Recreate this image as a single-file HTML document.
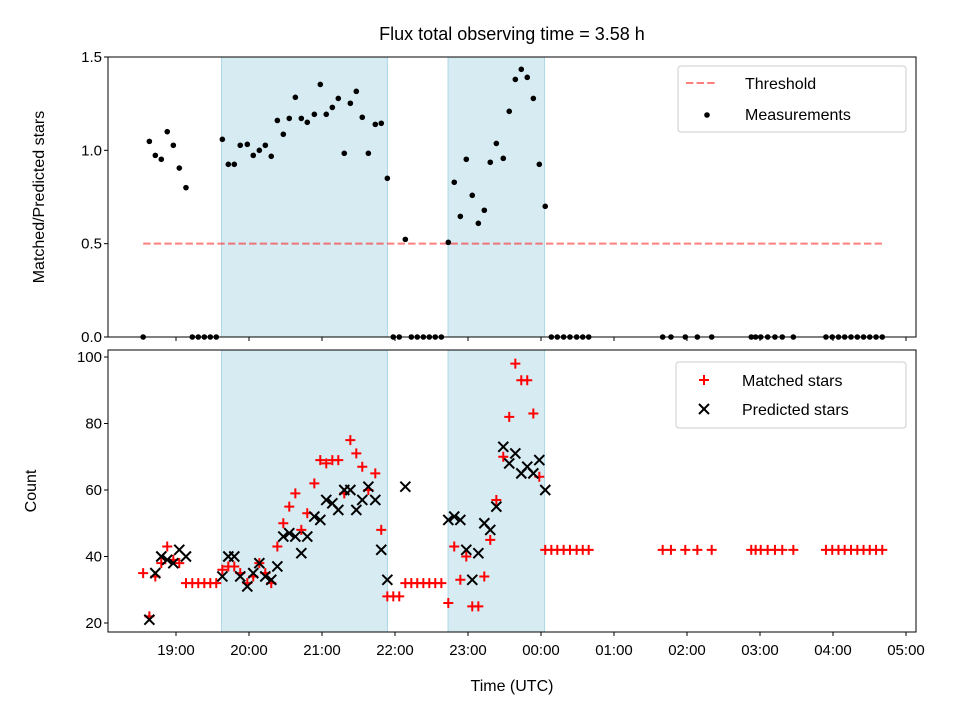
<!DOCTYPE html>
<html><head><meta charset="utf-8"><style>
body{margin:0;background:#fff}
svg{display:block;font-family:"Liberation Sans","DejaVu Sans",sans-serif}
</style></head><body>
<svg id="chart" width="960" height="720" viewBox="0 0 960 720">
<rect width="960" height="720" fill="#fff"/>
<g id="shadeTop"></g><g id="shadeBot"></g>
<g id="grid"></g>
<g id="marks"></g>
<g id="axes"></g>
</svg>
<script>
// times in minutes after 18:00 UTC
const times=[33,38.1,43,47.9,52.8,57.8,62.7,68.2,73.4,78.3,83.3,88.2,93.1,98.1,103,107.9,112.8,118.6,123.5,128.5,133.4,138.3,143.3,148.2,153.1,158.1,163,167.9,173.7,178.6,183.5,188.5,193.4,198.3,203.3,208.2,213.1,218.1,223.8,228.7,233.7,238.6,243.5,248.5,253.4,258.3,263.3,268.2,273.1,278.1,283.8,288.7,293.7,298.6,303.5,308.5,313.4,318.3,323.3,329,333.9,338.9,343.8,348.7,353.7,358.6,363.5,368.5,373.4,378.6,383.8,389.3,394.3,399.2,460,466.8,478.6,488.5,500.3,532.8,536.4,540.6,546.3,552.3,558.3,567.4,594.2,599.4,604.5,609.6,614.8,620,625.1,630.2,635.4,640.5];
const ratio=[0,1.048,0.973,0.952,1.10,1.027,0.905,0.80,0,0,0,0,0,1.059,0.925,0.925,1.027,1.032,0.973,1.0,1.027,0.968,1.16,1.086,1.171,1.284,1.171,1.15,1.193,1.353,1.193,1.23,1.278,0.984,1.252,1.316,1.177,0.984,1.139,1.145,0.85,0,0,0.523,0,0,0,0,0,0,0.507,0.829,0.646,0.952,0.759,0.609,0.679,0.936,1.037,0.957,1.209,1.38,1.434,1.391,1.278,0.925,0.70,0,0,0,0,0,0,0,0,0,0,0,0,0,0,0,0,0,0,0,0,0,0,0,0,0,0,0,0,0];
const matched=[35,22,34,38,43,39,38,32,32,32,32,32,32,36,37,37,35,32,34,38,35,32,43,50,55,59,48,53,62,69,68,69,69,59,75,71,67,60,65,48,28,28,28,32,32,32,32,32,32,32,26,43,33,40,25,25,34,45,57,70,82,98,93,93,83,64,42,42,42,42,42,42,42,42,42,42,42,42,42,42,42,42,42,42,42,42,42,42,42,42,42,42,42,42,42,42];
const predicted=[null,21,35,40,39,38,42,40,null,null,null,null,null,34,40,40,34,31,35,38,34,33,37,46,47,46,41,46,52,51,57,56,54,60,60,54,57,61,57,42,33,null,null,61,null,null,null,null,null,null,51,52,51,42,33,41,50,48,55,73,68,71,65,67,65,69,60];
const xTickLabels=["19:00","20:00","21:00","22:00","23:00","00:00","01:00","02:00","03:00","04:00","05:00"];
const topTicks=[0,0.5,1.0,1.5];
const botTicks=[20,40,60,80,100];
const threshold=0.5;
const nightSpans=[[97.4,233.8],[283.6,362.9]];

const NS="http://www.w3.org/2000/svg";
const X0=108,X1=916, T0=57,T1=337, B0=350,B1=632;
const xs=m=>176+(m-60)*73/60;
const yt=v=>337-v*186.67;
const yb=v=>623-(v-20)*3.325;
function el(tag,attrs,parent,text){const e=document.createElementNS(NS,tag);for(const k in attrs)e.setAttribute(k,attrs[k]);if(text!==undefined)e.textContent=text;parent.appendChild(e);return e;}
const marks=document.getElementById('marks'),axes=document.getElementById('axes');

nightSpans.forEach((s,i)=>{
  [[T0,T1,'shadeTop'],[B0,B1,'shadeBot']].forEach(([a,b,g])=>{
    const r=el('rect',{x:xs(s[0]),y:a,width:xs(s[1])-xs(s[0]),height:b-a,fill:'#add8e6','fill-opacity':0.5,stroke:'#add8e6','stroke-width':1},document.getElementById(g));
    
    
  });
});

const th=el('line',{x1:xs(times[0]),x2:xs(times[times.length-1]),y1:yt(threshold),y2:yt(threshold),stroke:'#ff0000','stroke-opacity':0.5,'stroke-width':2,'stroke-dasharray':'7.4,3.2'},marks);



times.forEach((t,i)=>{
  const c=el('circle',{cx:xs(t),cy:yt(ratio[i]),r:2.8,fill:'#000'},marks);
  
  
});
times.forEach((t,i)=>{
  const x=xs(t),y=yb(matched[i]);
  const p=el('path',{d:`M${x-5},${y}H${x+5}M${x},${y-5}V${y+5}`,stroke:'#ff0000','stroke-width':2,fill:'none'},marks);
  
  
});
times.forEach((t,i)=>{
  if(predicted[i]==null)return;
  const x=xs(t),y=yb(predicted[i]);
  const p=el('path',{d:`M${x-5},${y-5}L${x+5},${y+5}M${x-5},${y+5}L${x+5},${y-5}`,stroke:'#000','stroke-width':2,fill:'none'},marks);
  
  
});

[[T0,T1,'top-plot-frame'],[B0,B1,'bottom-plot-frame']].forEach(([a,b,n])=>{
  const r=el('rect',{x:X0,y:a,width:X1-X0,height:b-a,fill:'none',stroke:'#000','stroke-width':1},axes);
  
  
});
xTickLabels.forEach((lab,i)=>{
  const x=xs(60+i*60);
  el('line',{x1:x,x2:x,y1:T1,y2:T1+4,stroke:'#000'},axes);
  el('line',{x1:x,x2:x,y1:B1,y2:B1+4,stroke:'#000'},axes);
  const t=el('text',{x:x,y:B1+23,'text-anchor':'middle','font-size':15},axes,lab);
  
  
});
topTicks.forEach(v=>{
  const y=yt(v);
  el('line',{x1:X0-4,x2:X0,y1:y,y2:y,stroke:'#000'},axes);
  const t=el('text',{x:X0-6,y:y+5,'text-anchor':'end','font-size':15},axes,v.toFixed(1));
  
  
});
botTicks.forEach(v=>{
  const y=yb(v);
  el('line',{x1:X0-4,x2:X0,y1:y,y2:y,stroke:'#000'},axes);
  const t=el('text',{x:X0-6,y:y+5,'text-anchor':'end','font-size':15},axes,String(v));
  
  
});
</script>
<div style="position:absolute;left:0;top:0;width:960px;height:720px;pointer-events:none">
<svg width="960" height="720" style="font-family:'Liberation Sans','DejaVu Sans',sans-serif">
<text x="512" y="40" text-anchor="middle" font-size="18">Flux total observing time = 3.58 h</text>
<text x="512" y="691" text-anchor="middle" font-size="16">Time (UTC)</text>
<text transform="translate(44,197) rotate(-90)" text-anchor="middle" font-size="16">Matched/Predicted stars</text>
<text transform="translate(36,491) rotate(-90)" text-anchor="middle" font-size="16">Count</text>
<g>
<rect x="678" y="66" width="228" height="66" rx="3" fill="#fff" fill-opacity="0.8" stroke="#ccc"/>
<line x1="686" x2="716" y1="83" y2="83" stroke="#ff0000" stroke-opacity="0.5" stroke-width="2" stroke-dasharray="7.4,3.2"/>
<text x="745" y="89" font-size="16">Threshold</text>
<circle cx="707" cy="115" r="2.8" fill="#000"/>
<text x="745" y="120" font-size="16">Measurements</text>
</g>
<g>
<rect x="676" y="362" width="230" height="66" rx="3" fill="#fff" fill-opacity="0.8" stroke="#ccc"/>
<path d="M699,380H709M704,375V385" stroke="#ff0000" stroke-width="2"/>
<text x="742" y="386" font-size="16">Matched stars</text>
<path d="M699,404L709,414M699,414L709,404" stroke="#000" stroke-width="2"/>
<text x="742" y="415" font-size="16">Predicted stars</text>
</g>
</svg></div>
</body></html>
